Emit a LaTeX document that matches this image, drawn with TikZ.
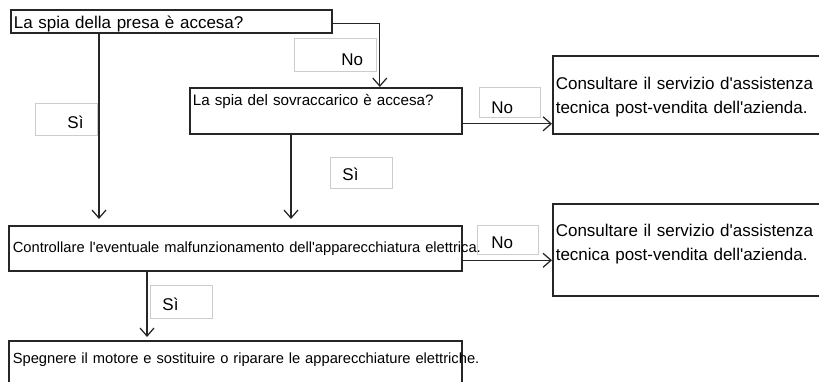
\documentclass[tikz,border=0pt]{standalone}
\usepackage{fontspec}
\setmainfont{Liberation Sans}[Ligatures=TeXOff]
\usetikzlibrary{arrows.meta}

\begin{document}
\begin{tikzpicture}
[
	x=1pt,y=-1pt,
	bx/.style={rectangle,draw=black!85,line width=1.6,anchor=north west,inner xsep=3pt,inner ysep=0pt,align=left},
	lbl/.style={rectangle,draw=black!20,line width=0.9,anchor=north west,inner sep=0pt,align=left,font=\fontsize{17}{20}\selectfont},
	big/.style={font=\fontsize{17}{24}\selectfont},
	small/.style={font=\fontsize{14.7}{18}\selectfont},
	arr/.style={draw=black!85,line width=1.25,-{Straight Barb[length=8pt,width=14pt]}}
]
\useasboundingbox (0,0) rectangle (819,382);

\node[bx,big,text width=315pt,text height=19pt,text depth=4pt] (presa) at (10,9) {La spia della presa è accesa?};
\node[bx,font=\fontsize{15.2}{18}\selectfont,text width=266pt,text height=18pt,text depth=28pt] (sovr) at (189,87) {La spia del sovraccarico è accesa?};
\node[bx,big,text width=290pt,text height=34pt,text depth=44pt] (ass1) at (552,55) {Consultare il servizio d'assistenza\\tecnica post-vendita dell'azienda.};
\node[bx,small,inner xsep=4pt,text width=445pt,text height=27pt,text depth=18pt] (contr) at (8,225) {\mbox{Controllare l'eventuale malfunzionamento dell'apparecchiatura elettrica.}};
\node[bx,big,text width=290pt,text height=33pt,text depth=59pt] (ass2) at (552,203) {Consultare il servizio d'assistenza\\tecnica post-vendita dell'azienda.};
\node[bx,small,inner xsep=4pt,text width=445pt,text height=23pt,text depth=30pt] (speg) at (8,340) {\mbox{Spegnere il motore e sostituire o riparare le apparecchiature elettriche.}};

\node[lbl,text width=82pt,text height=27pt,text depth=6pt] (no1) at (294,38) {\hspace*{47pt}No};
\node[lbl,text width=62pt,text height=25pt,text depth=7pt] (si1) at (35,103) {\hspace*{32pt}Sì};
\node[lbl,text width=61pt,text height=26pt,text depth=4pt] (no2) at (479,87) {\hspace*{12pt}No};
\node[lbl,text width=62pt,text height=23pt,text depth=8pt] (si2) at (330,157) {\hspace*{12pt}Sì};
\node[lbl,text width=61pt,text height=23pt,text depth=6pt] (no3) at (477,225) {\hspace*{14pt}No};
\node[lbl,text width=62pt,text height=25pt,text depth=8pt] (si3) at (150,285) {\hspace*{12pt}Sì};

\draw[arr] ([yshift=-2pt]presa.east) -| ([xshift=54pt]sovr.north);
\draw[arr,shorten >=6pt] ([xshift=89pt]presa.south west) coordinate (s1) -- (s1 |- contr.north);
\draw[arr,shorten >=6pt] ([xshift=102pt]sovr.south west) coordinate (s2) -- (s2 |- contr.north);
\draw[arr] ([yshift=-13pt]sovr.east) coordinate (n1) -- (n1 -| ass1.west);
\draw[arr] ([yshift=-12pt]contr.east) coordinate (n2) -- (n2 -| ass2.west);
\draw[arr,shorten >=3pt] ([xshift=139pt]contr.south west) coordinate (s3) -- (s3 |- speg.north);

\end{tikzpicture}
\end{document}
